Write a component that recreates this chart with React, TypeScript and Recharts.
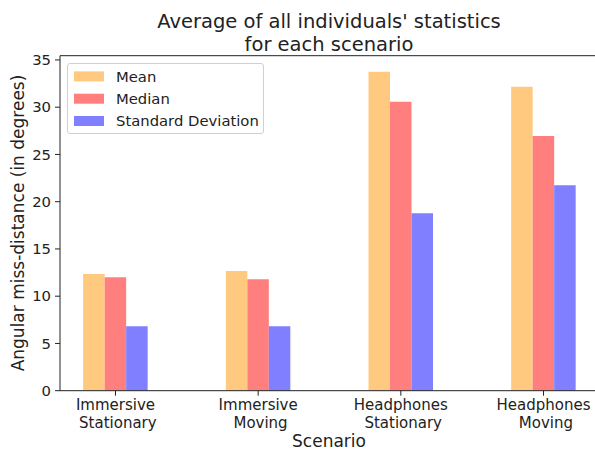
import { Bar, BarChart, Legend, ReferenceLine, XAxis, YAxis } from "recharts";

const scenarioTop = ["Immersive", "Immersive", "Headphones", "Headphones"];
const scenarioBottom = [" Stationary", " Moving", " Stationary", " Moving"];
const scenarioPos = [0, 1, 2, 3];

const meanValues = [12.35, 12.67, 33.76, 32.17];
const medianValues = [12.0, 11.79, 30.58, 26.95];
const stdValues = [6.82, 6.82, 18.77, 21.74];

const yTicks = [0, 5, 10, 15, 20, 25, 30, 35];
const yMax = 35.45;

const series = [
	{ key: "mean", name: "Mean", color: "#FFC97F" },
	{ key: "median", name: "Median", color: "#FF7F7F" },
	{ key: "std", name: "Standard Deviation", color: "#7F7FFF" },
];

const rows = scenarioPos.map((pos, i) => ({
	pos,
	mean: meanValues[i],
	median: medianValues[i],
	std: stdValues[i],
}));

const FONT = "'DejaVu Sans', sans-serif";
const INK = "#222";

const ScenarioTick = (props: any) => {
	const { x, y, payload } = props;
	const i = payload.value;
	return (
		<text
			x={x}
			y={y + 14.3}
			textAnchor="middle"
			fill={INK}
			fontSize={15}
			fontFamily={FONT}
			xmlSpace="preserve"
			style={{ whiteSpace: "pre" }}
		>
			<tspan x={x}>{scenarioTop[i]}</tspan>
			<tspan x={x} dy={17.7}>
				{scenarioBottom[i]}
			</tspan>
		</text>
	);
};

const LegendBox = () => (
	<div
		style={{
			width: 197,
			height: 71,
			border: "1px solid #d0d0d0",
			borderRadius: 3,
			background: "rgba(255,255,255,0.8)",
			boxSizing: "border-box",
		}}
	>
		<svg width={197} height={71}>
			{series.map((s, i) => (
				<g key={s.key}>
					<rect x={6} y={7.4 + i * 22.3} width={30} height={10} fill={s.color} />
					<text x={48} y={17.6 + i * 22.3} fontSize={14.8} fontFamily={FONT} fill={INK}>
						{s.name}
					</text>
				</g>
			))}
		</svg>
	</div>
);

export default function App() {
	return (
		<div
			style={{
				position: "absolute",
				left: 0,
				top: 0,
				width: 595,
				height: 451,
				overflow: "hidden",
				background: "#fff",
				fontFamily: FONT,
			}}
		>
			<BarChart
				width={609}
				height={451}
				data={rows}
				margin={{ top: 55.7, right: 10, bottom: 20.3, left: 0 }}
				barSize={21.5}
				barGap={0}
			>
				<XAxis
					dataKey="pos"
					type="number"
					domain={[-0.389, 3.389]}
					ticks={scenarioPos}
					interval={0}
					allowDataOverflow
					height={40}
					tickSize={5}
					tickMargin={0}
					stroke={INK}
					tick={<ScenarioTick />}
				/>
				<YAxis
					type="number"
					domain={[0, yMax]}
					ticks={yTicks}
					interval={0}
					allowDataOverflow
					width={60}
					tickSize={5}
					tickMargin={4}
					stroke={INK}
					tick={{ fill: INK, fontSize: 14.8, fontFamily: FONT }}
				/>
				<ReferenceLine y={yMax} stroke={INK} />
				{series.map((s) => (
					<Bar key={s.key} dataKey={s.key} name={s.name} fill={s.color} isAnimationActive={false} />
				))}
				<Legend
					layout="vertical"
					align="center"
					verticalAlign="middle"
					content={<LegendBox />}
					wrapperStyle={{ left: 66.7, top: 63.3, width: 197, height: 71 }}
				/>
			</BarChart>
			<svg
				width={595}
				height={451}
				style={{ position: "absolute", left: 0, top: 0, pointerEvents: "none" }}
			>
				<text x={329} y={28.3} textAnchor="middle" fontSize={19.5} fontFamily={FONT} fill={INK}>
					Average of all individuals' statistics
				</text>
				<text x={329} y={50.5} textAnchor="middle" fontSize={19.5} fontFamily={FONT} fill={INK}>
					for each scenario
				</text>
				<text
					x={0}
					y={0}
					transform="translate(24 223) rotate(-90)"
					textAnchor="middle"
					fontSize={17}
					fontFamily={FONT}
					fill={INK}
				>
					Angular miss-distance (in degrees)
				</text>
				<text x={329} y={447} textAnchor="middle" fontSize={17} fontFamily={FONT} fill={INK}>
					Scenario
				</text>
			</svg>
		</div>
	);
}
